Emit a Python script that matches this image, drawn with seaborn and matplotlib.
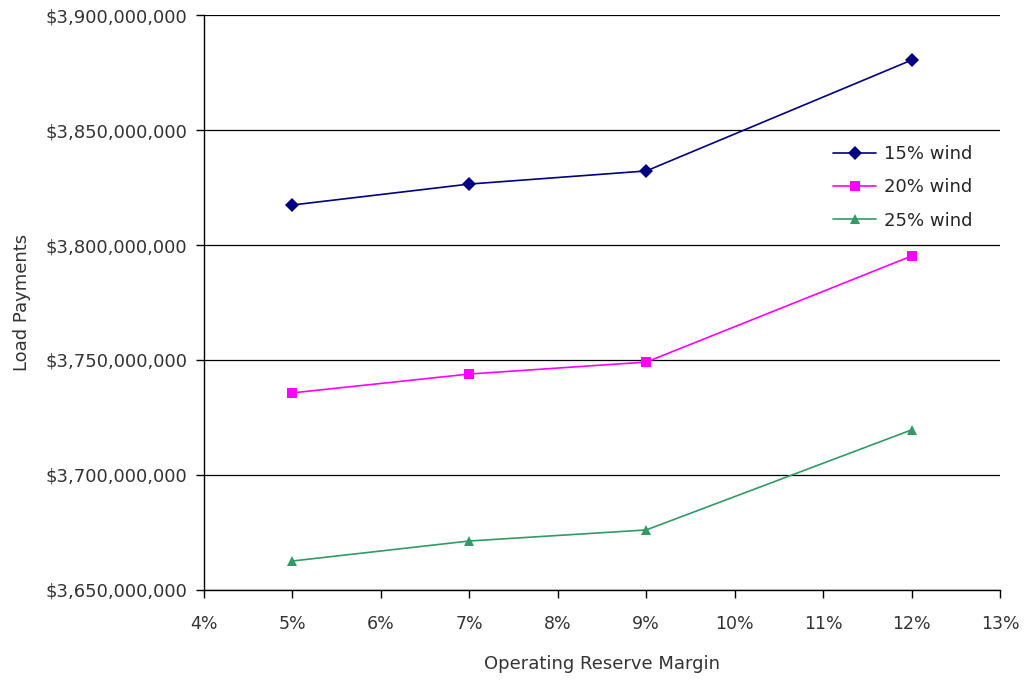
import numpy as np
import pandas as pd
import matplotlib
matplotlib.use('Agg')
import matplotlib.pyplot as plt
import matplotlib.ticker as mticker
import seaborn as sns

# --- Data ---
margins = [5, 7, 9, 12]  # operating reserve margin, %
wind_15 = [3817400000, 3826500000, 3832200000, 3880400000]
wind_20 = [3735700000, 3743900000, 3749100000, 3795200000]
wind_25 = [3662600000, 3671300000, 3676100000, 3719600000]
series_names = ['15% wind', '20% wind', '25% wind']

df = pd.DataFrame({
    'margin': margins * 3,
    'payments': wind_15 + wind_20 + wind_25,
    'series': [n for n in series_names for _ in margins],
})

sns.set_style('white')
plt.rcParams['font.family'] = ['DejaVu Sans']

fig = plt.figure(figsize=(10.25, 6.83), dpi=100)
ax = fig.add_axes([0.199, 0.1362, 0.7766, 0.8418])

palette = {'15% wind': '#000080', '20% wind': '#FF00FF', '25% wind': '#339966'}
markers = {'15% wind': 'D', '20% wind': 's', '25% wind': '^'}
sns.lineplot(data=df, x='margin', y='payments', hue='series', style='series',
             palette=palette, markers=markers, dashes=False, markersize=7,
             linewidth=1.2, markeredgewidth=0, ax=ax)

ax.set_xlim(4, 13)
ax.set_ylim(3.65e9, 3.9e9)
ax.xaxis.set_major_locator(mticker.MultipleLocator(1))
ax.yaxis.set_major_locator(mticker.MultipleLocator(50e6))
ax.xaxis.set_major_formatter(mticker.FuncFormatter(lambda v, p: f'{v:.0f}%'))
ax.yaxis.set_major_formatter(mticker.FuncFormatter(lambda v, p: f'${v:,.0f}'))

ax.grid(axis='y', color='black', linewidth=0.9)
ax.set_axisbelow(True)
for s in ['top', 'right']:
    ax.spines[s].set_visible(False)
for s in ['left', 'bottom']:
    ax.spines[s].set_color('black')
    ax.spines[s].set_linewidth(1)

ax.tick_params(axis='both', direction='out', length=6, width=1, color='black',
               labelsize=13, labelcolor='#333333', pad=6)
ax.tick_params(axis='x', pad=12, labelsize=12.5)
ax.tick_params(left=True, bottom=True)

ax.set_xlabel('Operating Reserve Margin', fontsize=13, labelpad=16, color='#333333')
ax.set_ylabel('Load Payments', fontsize=13, labelpad=10, color='#333333')

leg = ax.legend(title=None, frameon=False, fontsize=13, loc='upper left',
                bbox_to_anchor=(0.77, 0.802), handlelength=2.4, labelspacing=0.85,
                handletextpad=0.4)

fig.savefig('out.png', dpi=100)
